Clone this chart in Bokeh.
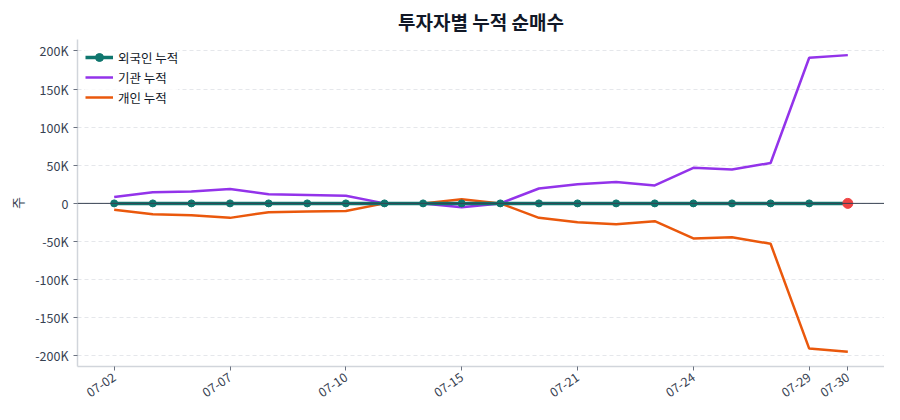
#투자자별 누적 순매수 차트
from bokeh.plotting import figure
from bokeh.models import FixedTicker, Span, Range1d
from bokeh.embed import file_html
from bokeh.resources import INLINE

fechas = ['07-02', '07-03', '07-04', '07-07', '07-08', '07-09', '07-10',
          '07-11', '07-14', '07-15', '07-16', '07-17', '07-21', '07-22',
          '07-23', '07-24', '07-25', '07-28', '07-29', '07-30']
extranjero = [0] * 20
institucional = [8500, 14700, 15500, 19000, 12000, 11000, 10000, 0, 0, -5000,
                 0, 19500, 25000, 28000, 23500, 46700, 44500, 53000, 191000, 194500]
individual = [-8500, -14300, -15500, -19000, -11500, -10700, -9900, 0, 0, 5500,
              0, -19000, -24800, -27400, -23400, -46000, -44300, -53000, -190500, -194500]
ticks_y = [-200000, -150000, -100000, -50000, 0, 50000, 100000, 150000, 200000]
etiquetas_y = ['-200K', '-150K', '-100K', '-50K', '0', '50K', '100K', '150K', '200K']

fuente = "Noto Sans CJK KR"
xs = list(range(len(fechas)))

p = figure(width=884, height=404, output_backend="svg", toolbar_location=None,
           title="투자자별 누적 순매수", min_border_left=77, min_border_right=0,
           min_border_top=10, min_border_bottom=10)
p.x_range = Range1d(-0.95, len(fechas) - 1 + 0.95)
p.y_range = Range1d(-214000, 215000)

p.title.align = "center"
p.title.text_font = fuente
p.title.text_font_size = "19px"
p.title.text_color = "#111827"
p.title.text_font_style = "bold"

p.outline_line_color = None
p.xgrid.grid_line_color = None
p.ygrid.grid_line_color = "#e5e7eb"
p.ygrid.grid_line_dash = "4 3"
p.ygrid.ticker = FixedTicker(ticks=ticks_y)

cero = Span(location=0, dimension="width", line_color="#374151", line_width=1)
p.add_layout(cero)

p.line(xs, institucional, color="#9333ea", line_width=2.5, legend_label="기관 누적")
p.line(xs, individual, color="#ea580c", line_width=2.5, legend_label="개인 누적")
p.line(xs, extranjero, color="#0f766e", line_width=3.5, legend_label="외국인 누적")
p.scatter(xs, extranjero, color="#0f766e", size=7, legend_label="외국인 누적")
p.scatter([xs[-1]], [extranjero[-1]], color="#ef4444", size=10)

ticks_x = list(range(0, len(fechas), 3)) + [len(fechas) - 1]
p.xaxis.ticker = FixedTicker(ticks=ticks_x)
p.xaxis.major_label_overrides = {i: fechas[i] for i in ticks_x}
p.xaxis.major_label_orientation = 0.6
p.yaxis.ticker = FixedTicker(ticks=ticks_y)
p.yaxis.major_label_overrides = dict(zip(ticks_y, etiquetas_y))
p.yaxis.axis_label = "주"

for eje in (p.xaxis, p.yaxis):
    eje.axis_line_color = "#d1d5db"
    eje.axis_line_width = 1.5
    eje.major_tick_line_color = "#6b7280"
    eje.minor_tick_line_color = None
    eje.major_tick_out = 4
    eje.major_tick_in = 0
    eje.major_label_text_font = fuente
    eje.major_label_text_font_size = "12.5px"
    eje.major_label_text_color = "#374151"
    eje.axis_label_text_font = fuente
    eje.axis_label_text_font_size = "13px"
    eje.axis_label_text_font_style = "normal"
    eje.axis_label_text_color = "#374151"

# orden de la leyenda como en la imagen
items = p.legend[0].items
p.legend[0].items = [items[2], items[0], items[1]]
p.legend.location = "top_left"
p.legend.border_line_color = None
p.legend.background_fill_alpha = 0.8
p.legend.label_text_font = fuente
p.legend.label_text_font_size = "12.5px"
p.legend.label_text_color = "#111827"
p.legend.margin = 8
p.legend.padding = 4
p.legend.spacing = 0
p.legend.label_height = 14
p.legend.glyph_width = 28

open("out.html", "w").write(file_html(p, INLINE))
